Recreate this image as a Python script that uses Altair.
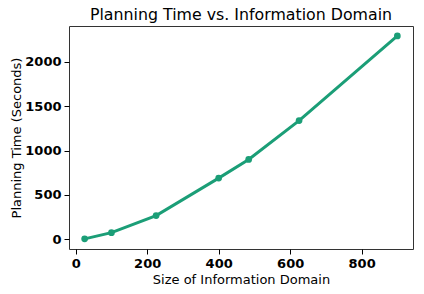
import altair as alt
import pandas as pd

domain_size = [25, 100, 225, 400, 484, 625, 900]
planning_time = [5, 75, 268, 690, 900, 1338, 2292]

df = pd.DataFrame({"size": domain_size, "time": planning_time})

color = "#1b9e77"
font = "DejaVu Sans"

x = alt.X("size:Q", scale=alt.Scale(domain=[-18.75, 943.75], nice=False, zero=False),
          axis=alt.Axis(title="Size of Information Domain", values=[0, 200, 400, 600, 800],
                        format="d",
                        grid=False, domain=False, tickColor="black", tickSize=5,
                        labelFont=font, labelFontSize=13, labelFontWeight="bold", labelColor="black",
                        labelPadding=3,
                        titleFont=font, titleFontSize=13, titleFontWeight="normal", titleColor="black",
                        titlePadding=3))
y = alt.Y("time:Q", scale=alt.Scale(domain=[-109.25, 2404.25], nice=False, zero=False),
          axis=alt.Axis(title="Planning Time (Seconds)", values=[0, 500, 1000, 1500, 2000],
                        format="d",
                        grid=False, domain=False, tickColor="black", tickSize=5,
                        labelFont=font, labelFontSize=13, labelFontWeight="bold", labelColor="black",
                        labelPadding=3,
                        titleFont=font, titleFontSize=13, titleFontWeight="normal", titleColor="black",
                        titlePadding=1))

line = alt.Chart(df).mark_line(color=color, strokeWidth=3).encode(x=x, y=y)
pts = alt.Chart(df).mark_point(color=color, filled=True, opacity=1, size=45).encode(x=x, y=y)

chart = (line + pts).properties(
    width=344, height=223,
    title=alt.TitleParams("Planning Time vs. Information Domain", font=font, fontSize=15.8,
                          fontWeight="normal", color="black", anchor="middle", offset=2),
    autosize=alt.AutoSizeParams(type="none"),
    padding={"left": 61, "top": 18, "right": 3, "bottom": 37},
).configure_view(stroke="#333333", strokeWidth=1)

chart.save("out.html", embed_options={"renderer": "svg", "actions": False})
